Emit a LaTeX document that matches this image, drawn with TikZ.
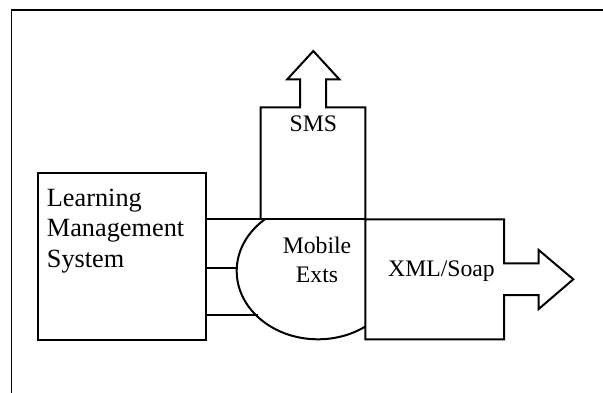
\documentclass[tikz,border=0pt]{standalone}
\usepackage{fontspec}
\setmainfont{Liberation Serif}
\usetikzlibrary{positioning}
\tikzset{
  outline/.style={draw=black, line width=2pt, line join=miter},
  big text/.style={font=\fontsize{26.3}{30.5}\selectfont, inner sep=0pt, align=left},
  small text/.style={font=\fontsize{23.7}{28.3}\selectfont, inner sep=0pt, align=center},
}
\begin{document}
\begin{tikzpicture}[x=1pt, y=-1pt]
  \clip (0,0) rectangle (603,392);
  % page frame
  \draw[line width=1.5pt] (11.7,10) rectangle (640,430);

  % Learning Management System block
  \node[outline, anchor=north west, minimum width=168.5pt, minimum height=167.6pt, inner sep=0pt] (lms) at (36.5,171.7) {};
  \node[big text, anchor=north west] (lmstext) at (46.7,188.5) {Learning\\Management\\System};

  % corner points of the blocks
  \coordinate (xmlnw) at (365.3,219.3);
  \coordinate (emid) at (236.7,268);
  \coordinate (elow) at (258.3,315.3);

  % SMS block arrow
  \draw[outline] (260.7,219.3) -- (260.7,107.3) -- (300,107.3) -- (300,79.3) -- (287.3,79.3)
    -- (313.3,51) -- (339.3,79.3) -- (326,79.3) -- (326,107.3) -- (365.3,107.3) -- (xmlnw);
  \node[small text, anchor=base] (sms) at (313.3,131.7) {SMS};

  % XML/Soap block arrow
  \draw[outline] (xmlnw) -- (504,219.3) -- (504,263.3) -- (538.7,263.3) -- (538.7,250)
    -- (573.3,279.3) -- (538.7,309) -- (538.7,295) -- (504,295) -- (504,339.3)
    -- (365.3,339.3) -- cycle;
  \node[small text, anchor=base] (xml) at (441.5,276.7) {XML/Soap};

  % Mobile extensions
  \begin{scope}
    \clip (200,219.3) rectangle (xmlnw |- 0,400);
    \draw[outline] (318,271) ellipse [x radius=81.3, y radius=68.3];
  \end{scope}
  \node[small text] (mobile) at (317,260) {Mobile\\Exts};

  % links from the LMS
  \draw[outline] (lms.east |- xmlnw) -- (xmlnw);
  \draw[outline] (lms.east |- emid) -- (emid);
  \draw[outline] (lms.east |- elow) -- (elow);
\end{tikzpicture}
\end{document}
